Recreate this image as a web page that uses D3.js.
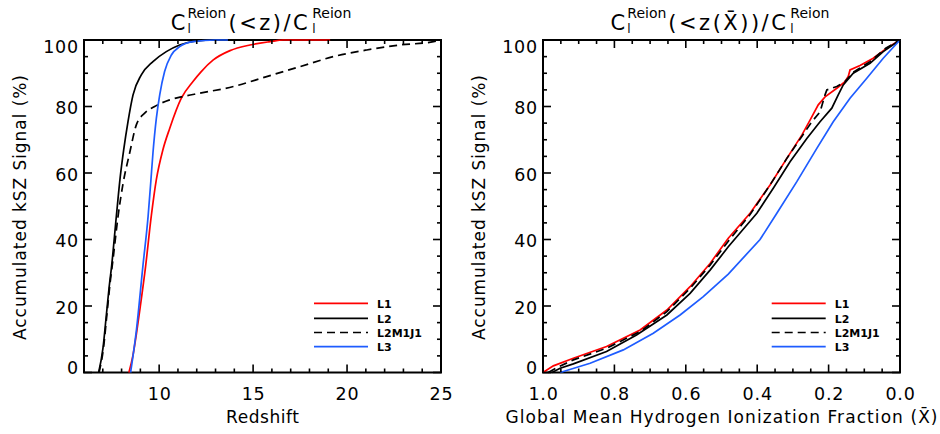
<!DOCTYPE html>
<html><head><meta charset="utf-8">
<script src="https://cdn.jsdelivr.net/npm/d3@7"></script>
<style>
body{margin:0;background:#fff;}
svg text{font-family:"DejaVu Sans",sans-serif;fill:#000;}
</style></head><body>
<svg id="c" width="940" height="434"></svg>
<script>
// ---------------- data ----------------
const seriesNames = ["L1", "L2", "L2M1J1", "L3"];

// Left panel: accumulated kSZ (%) vs redshift
const L1_z   = [8.39, 8.6, 8.8, 9.0, 9.28, 9.58, 9.85, 10.2, 10.56, 11.18, 11.8, 12.24, 12.88, 13.77, 14.83, 15.9, 16.6, 19.1];
const L1_acc = [0, 5, 12, 20, 32, 47, 58, 67, 73.4, 82.5, 87.5, 90.5, 94, 96.8, 98.5, 99.5, 100, 100];
const L2_z   = [6.78, 7.01, 7.19, 7.37, 7.45, 7.72, 7.93, 8.11, 8.34, 8.61, 9.05, 9.67, 10.38, 11.09, 11.98, 13.0, 13.7];
const L2_acc = [0, 7.3, 17.3, 27.3, 31, 46.9, 58.9, 66.9, 75.4, 83.5, 89.5, 93.5, 96.5, 98.5, 99.7, 100, 100];
const L2M1J1_z   = [6.8, 7.04, 7.22, 7.4, 7.54, 7.81, 8.08, 8.43, 8.78, 9.23, 9.76, 10.56, 11.27, 12.16, 13.95, 15.72, 17.5, 19.27, 21.05, 22.8, 24.6, 25];
const L2M1J1_acc = [0, 7.5, 17.5, 27.5, 33.8, 46.9, 56.9, 66, 74.4, 78, 80, 82, 83, 84, 86, 89, 92, 95, 97, 98.5, 99.5, 100];
const L3_z   = [8.48, 8.78, 9.14, 9.41, 9.55, 9.67, 9.85, 10.03, 10.29, 10.65, 11.09, 11.8, 13.0, 13.66];
const L3_acc = [0, 12.3, 32.3, 46.9, 57, 66, 76.4, 83.5, 90.5, 95.5, 98, 99.5, 100, 100];

// Right panel: accumulated kSZ (%) vs global mean ionization fraction
const L1_x    = [1.0, 0.971, 0.915, 0.822, 0.728, 0.653, 0.588, 0.532, 0.481, 0.42, 0.364, 0.317, 0.275, 0.252, 0.229, 0.21, 0.177, 0.154, 0.145, 0.14, 0.112, 0.075, 0.037, 0.0];
const L1_accX = [0, 2.0, 4.3, 7.8, 12.8, 18.8, 25.8, 32.8, 40.4, 47.9, 56.4, 64.4, 71.4, 75.9, 80.5, 82.9, 85.5, 87.5, 89.0, 91.0, 92.3, 94.5, 97.5, 100];
const L2_x    = [0.975, 0.952, 0.915, 0.822, 0.738, 0.653, 0.588, 0.532, 0.481, 0.401, 0.355, 0.308, 0.261, 0.224, 0.191, 0.173, 0.159, 0.131, 0.084, 0.047, 0.0];
const L2_accX = [0, 1.3, 2.6, 6.3, 11.3, 17.3, 23.8, 30.8, 37.8, 47.9, 55.4, 63.4, 70.4, 75.4, 79.5, 83.5, 86.5, 90, 93, 96.5, 100];
const L2M1J1_x    = [0.985, 0.96, 0.915, 0.822, 0.728, 0.653, 0.588, 0.532, 0.481, 0.42, 0.364, 0.317, 0.275, 0.247, 0.224, 0.21, 0.205, 0.177, 0.154, 0.131, 0.084, 0.04, 0.0];
const L2M1J1_accX = [0, 1.5, 3.8, 7.3, 12.3, 18.3, 25.3, 32.3, 39.5, 47.5, 56.4, 64.4, 71, 75.4, 78.4, 83.5, 85, 86, 87.5, 90.3, 93.5, 97.5, 100];
const L3_x    = [0.952, 0.868, 0.775, 0.691, 0.616, 0.551, 0.481, 0.392, 0.345, 0.289, 0.233, 0.187, 0.140, 0.093, 0.047, 0.0];
const L3_accX = [0, 2.8, 6.8, 11.8, 17.3, 22.8, 29.6, 40, 47.9, 57.4, 67.4, 75.4, 82.5, 88.5, 94.5, 100];

const yTicks = [0, 20, 40, 60, 80, 100];
const xTicksLeft = [10, 15, 20, 25];
const xTicksRight = [1.0, 0.8, 0.6, 0.4, 0.2, 0.0];

// ---------------- styles ----------------
const colors = {L1: "#ff0000", L2: "#000000", L2M1J1: "#000000", L3: "#1e5cff"};
const dashes = {L1: null, L2: null, L2M1J1: "8,5", L3: null};

const leftData = {
  L1: d3.zip(L1_z, L1_acc), L2: d3.zip(L2_z, L2_acc),
  L2M1J1: d3.zip(L2M1J1_z, L2M1J1_acc), L3: d3.zip(L3_z, L3_acc)
};
const rightData = {
  L1: d3.zip(L1_x, L1_accX), L2: d3.zip(L2_x, L2_accX),
  L2M1J1: d3.zip(L2M1J1_x, L2M1J1_accX), L3: d3.zip(L3_x, L3_accX)
};

const svg = d3.select("#c");
const Y0 = 372.5, Y1 = 40;
const y = d3.scaleLinear().domain([0, 100]).range([Y0, Y1]);
const xL = d3.scaleLinear().domain([6, 25]).range([84, 441]);
const xR = d3.scaleLinear().domain([1, 0]).range([543, 900]);

// minor tick values
const minorLeftX = d3.range(6, 26);
const minorRightX = d3.range(0, 21).map(i => i * 0.05);
const minorY = d3.range(0, 101, 5);

function panel(x, xMajor, xMinor, xFmt, data, curve, legendX, xLabel, xLabelLen) {
  const [x0, x1] = x.range();
  const g = svg.append("g");
  const isMajor = (v, arr) => arr.some(m => Math.abs(m - v) < 1e-6);

  // frame
  g.append("rect").attr("x", x0).attr("y", Y1).attr("width", x1 - x0).attr("height", Y0 - Y1)
    .style("fill", "none").style("stroke", "#000").style("stroke-width", "2px");

  // tick labels via d3 axes
  const xa = g.append("g").attr("transform", `translate(0,${Y0})`)
    .call(d3.axisBottom(x).tickValues(xMajor).tickSize(0).tickPadding(15.5).tickFormat(xFmt));
  const ya = g.append("g").attr("transform", `translate(${x0},0)`)
    .call(d3.axisLeft(y).tickValues(yTicks).tickSize(0).tickPadding(5).tickFormat(d3.format("d")));
  [xa, ya].forEach(a => {
    a.select(".domain").remove();
    a.selectAll(".tick line").remove();
    a.selectAll(".tick text").attr("font-size", 17.5).attr("letter-spacing", "0.8px")
      .attr("font-family", '"DejaVu Sans",sans-serif').attr("fill", "#000");
  });
  ya.selectAll(".tick text").attr("dy", d => d === 100 ? "0.72em" : d === 0 ? "0.03em" : "0.41em");

  // curves
  const line = d3.line().x(d => x(d[0])).y(d => y(d[1])).curve(curve);
  seriesNames.forEach(n => {
    g.append("path").datum(data[n]).attr("d", line)
      .attr("fill", "none").attr("stroke", colors[n]).attr("stroke-width", 1.7)
      .attr("stroke-dasharray", dashes[n]);
  });

  // legend
  const legY = [303.3, 318.3, 332.5, 346.7];
  seriesNames.forEach((n, i) => {
    g.append("line").attr("x1", legendX).attr("x2", legendX + 54)
      .attr("y1", legY[i]).attr("y2", legY[i])
      .attr("stroke", colors[n]).attr("stroke-width", 1.7).attr("stroke-dasharray", dashes[n]);
    g.append("text").attr("x", legendX + 63).attr("y", legY[i] + 4.2)
      .attr("font-size", 11).attr("font-weight", "bold").text(n);
  });

  // axis labels
  const xl = g.append("text").attr("x", (x0 + x1) / 2).attr("y", 423).attr("text-anchor", "middle")
    .attr("font-size", 17).text(xLabel);
  if (xLabelLen) xl.attr("textLength", xLabelLen).attr("lengthAdjust", "spacing");
  g.append("text").attr("transform", `translate(${x0 - 58},207.5) rotate(-90)`)
    .attr("text-anchor", "middle").attr("font-size", 17)
    .attr("textLength", 265).attr("lengthAdjust", "spacing")
    .text("Accumulated kSZ Signal (%)");

  // inward ticks on all four sides
  xMinor.forEach(v => {
    const len = isMajor(v, xMajor) ? 8 : 4;
    const px = x(v);
    svg.append("line").attr("x1", px).attr("x2", px).attr("y1", Y0).attr("y2", Y0 - len)
      .style("stroke", "#000").style("stroke-width", "1.6px");
    svg.append("line").attr("x1", px).attr("x2", px).attr("y1", Y1).attr("y2", Y1 + len)
      .style("stroke", "#000").style("stroke-width", "1.6px");
  });
  minorY.forEach(v => {
    const len = isMajor(v, yTicks) ? 8 : 4;
    const py = y(v);
    svg.append("line").attr("x1", x0).attr("x2", x0 + len).attr("y1", py).attr("y2", py)
      .style("stroke", "#000").style("stroke-width", "1.6px");
    svg.append("line").attr("x1", x1).attr("x2", x1 - len).attr("y1", py).attr("y2", py)
      .style("stroke", "#000").style("stroke-width", "1.6px");
  });
}

panel(xL, xTicksLeft, minorLeftX, d3.format("d"), leftData, d3.curveMonotoneX, 314,
      "Redshift", 73);
panel(xR, xTicksRight, minorRightX, d3.format(".1f"), rightData, d3.curveLinear, 771.7,
      "Global Mean Hydrogen Ionization Fraction (X\u0304)", 432);

// titles with stacked super/subscripts
function title(cx, base, parts) {
  const g = svg.append("g");
  let cur = 0;
  parts.forEach(p => {
    if (p.big !== undefined) {
      const t = g.append("text").attr("x", cur).attr("y", base).attr("font-size", 21)
        .attr("letter-spacing", p.ls || 0).text(p.big);
      cur += t.node().getComputedTextLength() + 1;
    } else {
      const s = g.append("text").attr("x", cur + 1).attr("y", base - 11.7).attr("font-size", 14).text(p.sup);
      g.append("text").attr("x", cur + 1).attr("y", base + 3.3).attr("font-size", 12).text(p.sub);
      cur += s.node().getComputedTextLength() + 3;
    }
  });
  g.attr("transform", `translate(${cx - cur / 2},0)`);
}
title(262, 30, [{big: "C"}, {sup: "Reion", sub: "l"}, {big: "(<z)/C", ls: "2.5px"}, {sup: "Reion", sub: "l"}]);
title(721, 30, [{big: "C"}, {sup: "Reion", sub: "l"}, {big: "(<z(X\u0304))/C", ls: "2.5px"}, {sup: "Reion", sub: "l"}]);
</script>
</body></html>
